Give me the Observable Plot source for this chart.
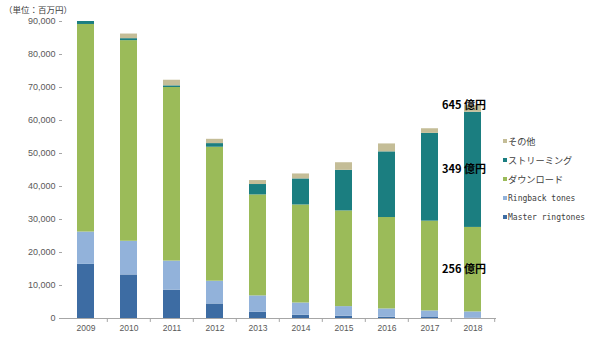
<!DOCTYPE html>
<html>
<head>
<meta charset="utf-8">
<script src="https://cdn.jsdelivr.net/npm/d3@7"></script>
<script src="https://cdn.jsdelivr.net/npm/@observablehq/plot@0.6"></script>
<style>
  body { margin: 0; background: #fff; }
  #wrap { position: relative; width: 590px; height: 340px; overflow: hidden; }
  #title { position: absolute; left: 4px; top: 3px; font: 8.5px "Noto Sans CJK JP", sans-serif; color: #404040; white-space: nowrap; }
  #legend { position: absolute; left: 503px; top: 131px; }
  .item { height: 19.2px; display: flex; align-items: center; white-space: nowrap; color: #404040; }
  .sw { width: 4px; height: 4px; margin-right: 1px; flex: none; }
  .jp { font: 9.2px "Noto Sans CJK JP", sans-serif; }
  .en { font: 8px "DejaVu Sans Mono", "Liberation Mono", monospace; }
</style>
</head>
<body>
<div id="wrap">
  <div id="chart"></div>
  <div id="title">（単位：百万円）</div>
  <div id="legend"></div>
</div>
<script>
const years = ["2009","2010","2011","2012","2013","2014","2015","2016","2017","2018"];
const seriesNames = ["Master ringtones","Ringback tones","ダウンロード","ストリーミング","その他"];
const seriesColors = ["#3d6ca3","#92b2da","#9bbb59","#1b7e80","#c4bd97"];
// values in millions of yen
const masterRingtones = [16400, 13200, 8600, 4400, 1900, 1000, 700, 400, 300, 100];
const ringbackTones   = [ 9800, 10200, 8800, 6900, 4950, 3700, 2900, 2500, 2000, 1900];
const download        = [62900, 60800, 52600, 40600, 30600, 29700, 29000, 27700, 27200, 25600];
const streaming       = [  900,   600,   500,  1100,  3150,  7900, 12300, 19900, 26600, 34900];
const other           = [    0,  1400,  1700,  1300,  1200,  1500,  2300,  2400,  1400,  2000];
const yTicks = [0,10000,20000,30000,40000,50000,60000,70000,80000,90000];

const seriesValues = [masterRingtones, ringbackTones, download, streaming, other];
const rows = [];
years.forEach((yr, i) => {
  seriesNames.forEach((s, j) => rows.push({year: yr, series: s, value: seriesValues[j][i]}));
});

// annotations for the last year
const li = years.length - 1;
const base2 = masterRingtones[li] + ringbackTones[li];
const top2 = base2 + download[li];
const top3 = top2 + streaming[li];
const total = top3 + other[li];
const fmt = v => Math.round(v / 100) + " 億円";
const annotations = [
  {year: years[li], y: total, text: fmt(total), dy: -11},
  {year: years[li], y: (top2 + top3) / 2, text: fmt(streaming[li]), dy: 2},
  {year: years[li], y: (base2 + top2) / 2, text: fmt(download[li]), dy: 4}
];

const W = 590, H = 340, ML = 62, MR = 94;
const step = (W - ML - MR) / years.length;

const plot = Plot.plot({
  width: W, height: H,
  marginLeft: ML, marginRight: MR, marginTop: 21, marginBottom: 22,
  style: {background: "#fff", overflow: "visible"},
  x: {domain: years, paddingInner: 0.6, paddingOuter: 0.3, label: null},
  y: {domain: [0, 90000], label: null},
  color: {domain: seriesNames, range: seriesColors},
  marks: [
    Plot.barY(rows, {x: "year", y: "value", fill: "series"}),
    Plot.ruleX([0], {frameAnchor: "left", stroke: "#a6a6a6"}),
    Plot.ruleY([0], {stroke: "#a6a6a6"}),
    Plot.axisY({ticks: yTicks, tickSize: 3, tickPadding: 4, stroke: "#a6a6a6",
      tickFormat: d => d3.format(",")(d), fontSize: 9, fill: "#595959",
      fontFamily: "Liberation Sans, Arial, sans-serif"}),
    Plot.axisX({tickSize: 0, tickPadding: 6, fontSize: 8.5, fill: "#595959",
      fontFamily: "Liberation Sans, Arial, sans-serif"}),
    // category boundary tick marks
    Plot.ruleX(years.slice(1), {x: d => d, y1: 0, y2: -1200, dx: -step / 2, stroke: "#a6a6a6", clip: false}),
    Plot.ruleX([years[li]], {x: d => d, y1: 0, y2: -1200, dx: step / 2, stroke: "#a6a6a6", clip: false}),
    Plot.text(annotations, {x: "year", y: "y", text: "text", dy: "dy",
      fontSize: 11, fontWeight: "bold", fill: "#000",
      fontFamily: "Noto Sans CJK JP, sans-serif"})
  ]
});
document.getElementById("chart").appendChild(plot);

// legend (top to bottom reversed order)
const legend = document.getElementById("legend");
seriesNames.slice().reverse().forEach(name => {
  const j = seriesNames.indexOf(name);
  const div = document.createElement("div");
  div.className = "item";
  const sw = document.createElement("span");
  sw.className = "sw";
  sw.style.background = seriesColors[j];
  const tx = document.createElement("span");
  tx.className = /[A-Za-z]/.test(name) ? "en" : "jp";
  tx.textContent = name;
  div.appendChild(sw); div.appendChild(tx);
  legend.appendChild(div);
});
</script>
</body>
</html>
